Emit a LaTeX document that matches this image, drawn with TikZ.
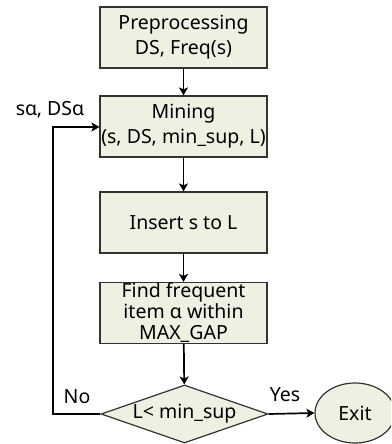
\documentclass[tikz,border=0pt]{standalone}
\usepackage{fontspec}
\setmainfont{Noto Sans}
\usetikzlibrary{shapes.geometric,arrows.meta}
\definecolor{boxfill}{HTML}{F0F0E2}
\definecolor{boxline}{HTML}{333333}
\tikzset{
  procbox/.style={draw=boxline, fill=boxfill, line width=1.2pt,
    minimum width=167pt, minimum height=61pt, align=center,
    font=\fontsize{19.5}{25}\selectfont, inner sep=0pt},
  decision/.style={diamond, draw=boxline, fill=boxfill, line width=1.2pt,
    minimum width=167pt, minimum height=58pt, aspect=2.9, inner sep=0pt,
    font=\fontsize{19.5}{22}\selectfont},
  terminal/.style={ellipse, draw=boxline, fill=boxfill, line width=1.2pt,
    minimum width=80pt, minimum height=60pt, inner sep=0pt,
    font=\fontsize{19.5}{22}\selectfont},
  flow/.style={line width=1.7pt, -{Stealth[length=8pt,width=9pt,inset=2pt]}},
  lbl/.style={font=\fontsize{19.5}{22}\selectfont, inner sep=0pt}
}
\begin{document}
\begin{tikzpicture}[x=1pt,y=-1pt]
  \useasboundingbox (0,0) rectangle (391,444);
  \begin{scope}
    \clip (0,0) rectangle (391,444);
    \node[procbox] (pre) at (183.5,37.5) {Preprocessing\\DS, Freq(s)};
    \node[procbox] (mine) at (183.5,126.5) {Mining\\(s, DS, min\_sup, L)};
    \node[procbox] (ins) at (183.5,222.5) {Insert s to L};
    \node[procbox, font=\fontsize{19.5}{21}\selectfont] (find) at (183.5,313) {Find frequent\\item α within\\MAX\_GAP};
    \node[decision] (dec) at (184.5,414) {L< min\_sup};
    \node[terminal] (exit) at (355,413) {Exit};

    \draw[flow] (pre) -- (mine);
    \draw[flow] (mine) -- (ins);
    \draw[flow] (ins) -- (find);
    \draw[flow] (find) -- (dec);
    \draw[flow] (dec.east) -- (exit.west);
    \coordinate (loopbot) at (53,414);
    \coordinate (looptop) at (53,127);
    \draw[flow] (dec.west) -- (loopbot) -- (looptop) -- (mine.west |- looptop);

    \node[lbl] (no) at (77,397) {No};
    \node[lbl] (yes) at (285,395) {Yes};
    \node[lbl] (salpha) at (50,110) {sα, DSα};
  \end{scope}
\end{tikzpicture}
\end{document}
